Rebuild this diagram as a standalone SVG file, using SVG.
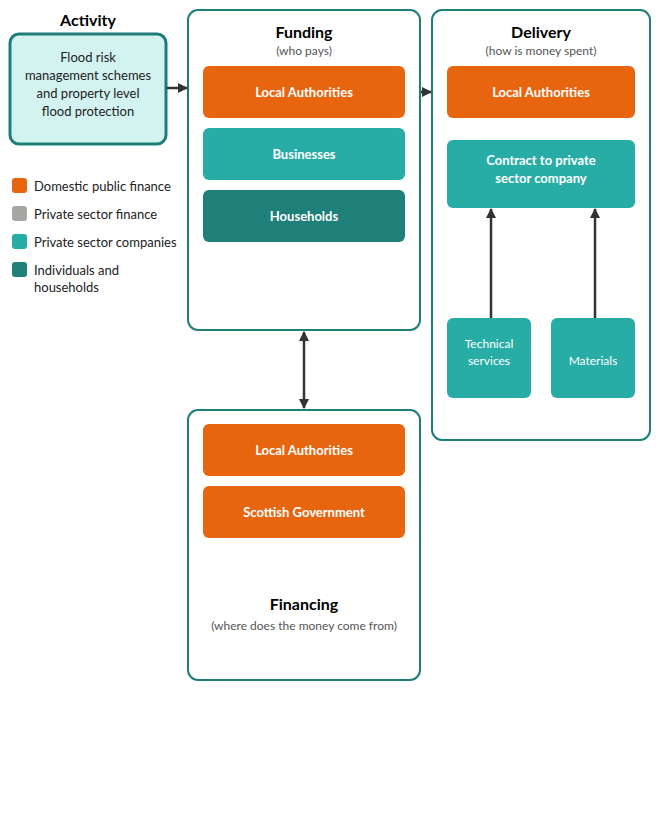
<svg xmlns="http://www.w3.org/2000/svg" width="660" height="820" viewBox="0 0 660 820">
<defs>
<marker id="ah" viewBox="0 0 10 10" refX="9" refY="5" markerWidth="4" markerHeight="4" orient="auto-start-reverse" markerUnits="strokeWidth">
<path d="M0,0 L10,5 L0,10 z" fill="#333333"/>
</marker>
<style>
text{font-family:Lato,"Liberation Sans",sans-serif;}
.panel{fill:#ffffff;stroke:#1f7f78;stroke-width:2;}
.title{font-size:16px;font-weight:bold;fill:#000;text-anchor:middle;}
.sub{font-size:12px;fill:#555555;text-anchor:middle;}
.lbl{font-size:13px;font-weight:bold;fill:#ffffff;text-anchor:middle;}
.small{font-size:12px;fill:#ffffff;text-anchor:middle;}
.leg{font-size:13px;fill:#222222;}
.orange{fill:#e8650f;}
.grey{fill:#a6a6a3;}
.teal{fill:#28ada6;}
.dteal{fill:#1f8079;}
.conn{stroke:#333333;stroke-width:2.5;fill:none;marker-end:url(#ah);}
</style>
</defs>
<rect width="660" height="820" fill="#ffffff"/>

<g id="activity">
<text class="title" x="88" y="26">Activity</text>
<rect x="10" y="34" width="156" height="110" rx="9" fill="#d3f3f1" stroke="#1f7f78" stroke-width="3"/>
<text x="88" y="62" font-size="13" text-anchor="middle" fill="#222">Flood risk</text>
<text x="88" y="80" font-size="13" text-anchor="middle" fill="#222">management schemes</text>
<text x="88" y="98" font-size="13" text-anchor="middle" fill="#222">and property level</text>
<text x="88" y="116" font-size="13" text-anchor="middle" fill="#222">flood protection</text>
</g>

<g id="legend">
<rect class="orange" x="12" y="178" width="15" height="15" rx="3"/>
<text class="leg" x="34" y="191">Domestic public finance</text>
<rect class="grey" x="12" y="206" width="15" height="15" rx="3"/>
<text class="leg" x="34" y="219">Private sector finance</text>
<rect class="teal" x="12" y="234" width="15" height="15" rx="3"/>
<text class="leg" x="34" y="247">Private sector companies</text>
<rect class="dteal" x="12" y="262" width="15" height="15" rx="3"/>
<text class="leg" x="34" y="275">Individuals and</text>
<text class="leg" x="34" y="292">households</text>
</g>

<g id="funding">
<rect class="panel" x="188" y="10" width="232" height="320" rx="10"/>
<text class="title" x="304" y="38">Funding</text>
<text class="sub" x="304" y="55">(who pays)</text>
<g id="funding-la">
<rect class="orange" x="203" y="66" width="202" height="52" rx="6"/>
<text class="lbl" x="304" y="97">Local Authorities</text>
</g>
<g id="funding-bus">
<rect class="teal" x="203" y="128" width="202" height="52" rx="6"/>
<text class="lbl" x="304" y="159">Businesses</text>
</g>
<g id="funding-hh">
<rect class="dteal" x="203" y="190" width="202" height="52" rx="6"/>
<text class="lbl" x="304" y="221">Households</text>
</g>
</g>

<g id="delivery">
<rect class="panel" x="432" y="10" width="218" height="430" rx="10"/>
<text class="title" x="541" y="38">Delivery</text>
<text class="sub" x="541" y="55">(how is money spent)</text>
<g id="delivery-la">
<rect class="orange" x="447" y="66" width="188" height="52" rx="6"/>
<text class="lbl" x="541" y="97">Local Authorities</text>
</g>
<g id="contract">
<rect class="teal" x="447" y="140" width="188" height="68" rx="6"/>
<text class="lbl" x="541" y="165">Contract to private</text>
<text class="lbl" x="541" y="183">sector company</text>
</g>
<g id="technical">
<rect class="teal" x="447" y="318" width="84" height="80" rx="6"/>
<text class="small" x="489" y="348">Technical</text>
<text class="small" x="489" y="365">services</text>
</g>
<g id="materials">
<rect class="teal" x="551" y="318" width="84" height="80" rx="6"/>
<text class="small" x="593" y="365">Materials</text>
</g>
</g>

<g id="financing">
<rect class="panel" x="188" y="410" width="232" height="270" rx="10"/>
<g id="financing-la">
<rect class="orange" x="203" y="424" width="202" height="52" rx="6"/>
<text class="lbl" x="304" y="455">Local Authorities</text>
</g>
<g id="scotgov">
<rect class="orange" x="203" y="486" width="202" height="52" rx="6"/>
<text class="lbl" x="304" y="517">Scottish Government</text>
</g>
<text class="title" x="304" y="610">Financing</text>
<text class="sub" x="304" y="630">(where does the money come from)</text>
</g>

<g id="connectors">
<line class="conn" x1="167" y1="88" x2="187" y2="88"/>
<line class="conn" x1="421" y1="92" x2="431" y2="92"/>
<line class="conn" x1="304" y1="332" x2="304" y2="408" marker-start="url(#ah)"/>
<line class="conn" x1="491" y1="318" x2="491" y2="209"/>
<line class="conn" x1="595" y1="318" x2="595" y2="209"/>
</g>
</svg>
